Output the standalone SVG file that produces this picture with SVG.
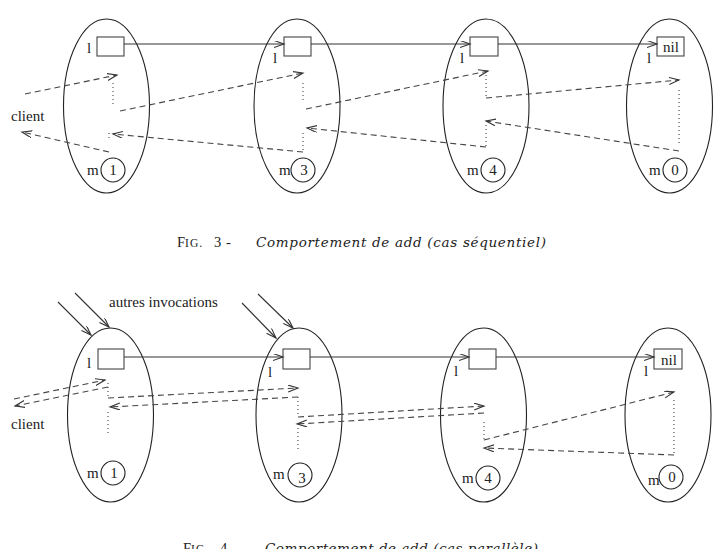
<svg xmlns="http://www.w3.org/2000/svg" width="716" height="549" viewBox="0 0 716 549">
<style>
  .obj { fill: none; stroke: #222; stroke-width: 1.1; }
  .box { fill: #fff; stroke: #444; stroke-width: 1.1; }
  .circ { fill: none; stroke: #222; stroke-width: 1.1; }
  .lbl { font-family: "Liberation Serif", "Times New Roman", serif; font-size: 15px; fill: #222; }
  .cap { font-family: "Liberation Serif", "Times New Roman", serif; font-size: 14.5px; fill: #222; }
  .capi { font-family: "DejaVu Serif", "Liberation Serif", serif; font-style: italic; font-size: 13.5px; fill: #222; }
  .link { fill: none; stroke: #333; stroke-width: 1.1; marker-end: url(#arr); }
  .msg { fill: none; stroke: #444; stroke-width: 1.1; stroke-dasharray: 6 4; marker-end: url(#arr); }
  .dot { fill: none; stroke: #444; stroke-width: 1.1; stroke-dasharray: 1 3; }
</style>
<defs>
  <marker id="arr" markerUnits="userSpaceOnUse" markerWidth="12" markerHeight="8" refX="10" refY="3.5" orient="auto">
    <path d="M0,0 L10,3.5 L0,7" fill="none" stroke="#333" stroke-width="1.1"/>
  </marker>
</defs>
<rect width="716" height="549" fill="#fff"/>

<!-- ===== Figure 3 ===== -->
<g id="f3-obj1">
  <ellipse class="obj" cx="106.5" cy="106" rx="43" ry="87"/>
  <rect class="box" x="97" y="37" width="27" height="19"/>
  <text class="lbl" x="87" y="53">l</text>
  <circle class="circ" cx="113" cy="170" r="12"/>
  <text class="lbl" x="87" y="175">m</text>
  <text class="lbl" x="113" y="175" text-anchor="middle">1</text>
</g>
<g id="f3-obj2">
  <ellipse class="obj" cx="297" cy="106" rx="43" ry="87"/>
  <rect class="box" x="284" y="37" width="27" height="19"/>
  <text class="lbl" x="273" y="63">l</text>
  <circle class="circ" cx="303" cy="170" r="12"/>
  <text class="lbl" x="279" y="175">m</text>
  <text class="lbl" x="304" y="175" text-anchor="middle">3</text>
</g>
<g id="f3-obj3">
  <ellipse class="obj" cx="486" cy="106" rx="43" ry="87"/>
  <rect class="box" x="470" y="37" width="28" height="19"/>
  <text class="lbl" x="460" y="63">l</text>
  <circle class="circ" cx="493" cy="170" r="12"/>
  <text class="lbl" x="467" y="175">m</text>
  <text class="lbl" x="493" y="175" text-anchor="middle">4</text>
</g>
<g id="f3-obj4">
  <ellipse class="obj" cx="669.5" cy="106" rx="43" ry="87"/>
  <rect class="box" x="657" y="37" width="27" height="19"/>
  <text class="lbl" x="671" y="52" text-anchor="middle">nil</text>
  <text class="lbl" x="647" y="63">l</text>
  <circle class="circ" cx="675" cy="170" r="12"/>
  <text class="lbl" x="649" y="175">m</text>
  <text class="lbl" x="675" y="175" text-anchor="middle">0</text>
</g>
<g id="f3-client">
  <text class="lbl" x="11" y="121">client</text>
</g>
<g id="f3-connectors">
  <line class="link" x1="124" y1="44" x2="284" y2="44"/>
  <line class="link" x1="311" y1="44" x2="470" y2="44"/>
  <line class="link" x1="498" y1="44" x2="657" y2="44"/>
  <line class="msg" x1="25" y1="94" x2="117" y2="75"/>
  <line class="dot" x1="113" y1="83" x2="113" y2="105"/>
  <line class="msg" x1="120" y1="111" x2="303" y2="73"/>
  <line class="dot" x1="303" y1="83" x2="303" y2="100"/>
  <line class="msg" x1="306" y1="109" x2="488" y2="71"/>
  <line class="dot" x1="486" y1="75" x2="486" y2="98"/>
  <line class="msg" x1="486" y1="98" x2="679" y2="80"/>
  <line class="dot" x1="679" y1="90" x2="679" y2="145"/>
  <line class="msg" x1="679" y1="151" x2="486" y2="121"/>
  <line class="dot" x1="486" y1="125" x2="486" y2="147"/>
  <line class="msg" x1="486" y1="147" x2="307" y2="128"/>
  <line class="dot" x1="303" y1="133" x2="303" y2="150"/>
  <line class="msg" x1="303" y1="152" x2="113" y2="134"/>
  <line class="dot" x1="109" y1="133" x2="109" y2="140"/>
  <line class="msg" x1="109" y1="152" x2="22" y2="132"/>
</g>
<g id="f3-caption">
  <text class="cap" y="247"><tspan x="177">F</tspan><tspan font-size="11.5" letter-spacing="1">IG.</tspan><tspan x="214">3</tspan><tspan x="226">-</tspan></text>
  <text class="capi" x="256" y="247" textLength="290" lengthAdjust="spacing">Comportement de add (cas séquentiel)</text>
</g>

<!-- ===== Figure 4 ===== -->
<g id="f4-obj1">
  <ellipse class="obj" cx="110.5" cy="415" rx="43" ry="87"/>
  <rect class="box" x="98" y="349" width="26" height="20"/>
  <text class="lbl" x="87" y="368">l</text>
  <circle class="circ" cx="113" cy="473" r="12"/>
  <text class="lbl" x="87" y="478">m</text>
  <text class="lbl" x="114" y="478" text-anchor="middle">1</text>
</g>
<g id="f4-obj2">
  <ellipse class="obj" cx="299" cy="415" rx="43" ry="87"/>
  <rect class="box" x="283" y="349" width="27" height="20"/>
  <text class="lbl" x="268" y="377">l</text>
  <circle class="circ" cx="300" cy="475" r="12"/>
  <text class="lbl" x="273" y="479">m</text>
  <text class="lbl" x="302" y="483" text-anchor="middle">3</text>
</g>
<g id="f4-obj3">
  <ellipse class="obj" cx="483.5" cy="415" rx="43" ry="87"/>
  <rect class="box" x="469" y="349" width="27" height="20"/>
  <text class="lbl" x="454" y="376">l</text>
  <circle class="circ" cx="488" cy="478" r="12"/>
  <text class="lbl" x="462" y="483">m</text>
  <text class="lbl" x="488" y="483" text-anchor="middle">4</text>
</g>
<g id="f4-obj4">
  <ellipse class="obj" cx="668" cy="415" rx="43" ry="87"/>
  <rect class="box" x="654" y="349" width="28" height="20"/>
  <text class="lbl" x="669" y="365" text-anchor="middle">nil</text>
  <text class="lbl" x="644" y="376">l</text>
  <circle class="circ" cx="671" cy="477" r="12"/>
  <text class="lbl" x="648" y="485">m</text>
  <text class="lbl" x="672" y="482" text-anchor="middle">0</text>
</g>
<g id="f4-client">
  <text class="lbl" x="11" y="429">client</text>
</g>
<g id="f4-others">
  <text class="lbl" x="109" y="307">autres invocations</text>
</g>
<g id="f4-connectors">
  <line class="link" x1="58" y1="302" x2="91" y2="335"/>
  <line class="link" x1="75" y1="293" x2="109" y2="327"/>
  <line class="link" x1="242" y1="303" x2="276" y2="338"/>
  <line class="link" x1="258" y1="294" x2="293" y2="328"/>
  <line class="link" x1="124" y1="357" x2="283" y2="357"/>
  <line class="link" x1="310" y1="357" x2="469" y2="357"/>
  <line class="link" x1="496" y1="357" x2="654" y2="357"/>
  <line class="msg" x1="14" y1="399" x2="105" y2="380"/>
  <line class="msg" x1="108" y1="387" x2="15" y2="406"/>
  <line class="dot" x1="108" y1="383" x2="108" y2="398"/>
  <line class="msg" x1="108" y1="398" x2="298" y2="388"/>
  <line class="msg" x1="298" y1="397" x2="110" y2="407"/>
  <line class="dot" x1="108" y1="412" x2="108" y2="433"/>
  <line class="dot" x1="298" y1="397" x2="298" y2="415"/>
  <line class="msg" x1="298" y1="417" x2="484" y2="406"/>
  <line class="msg" x1="484" y1="413" x2="297" y2="424"/>
  <line class="dot" x1="298" y1="428" x2="298" y2="452"/>
  <line class="dot" x1="484" y1="422" x2="484" y2="440"/>
  <line class="msg" x1="484" y1="440" x2="674" y2="392"/>
  <line class="dot" x1="674" y1="400" x2="674" y2="455"/>
  <line class="msg" x1="674" y1="455" x2="484" y2="448"/>
</g>
<g id="f4-caption">
  <text class="cap" y="552.5"><tspan x="183">F</tspan><tspan font-size="11.5" letter-spacing="1">IG.</tspan><tspan x="220">4</tspan><tspan x="232">-</tspan></text>
  <text class="capi" x="265" y="552.5" textLength="273" lengthAdjust="spacing">Comportement de add (cas parallèle)</text>
</g>
</svg>
